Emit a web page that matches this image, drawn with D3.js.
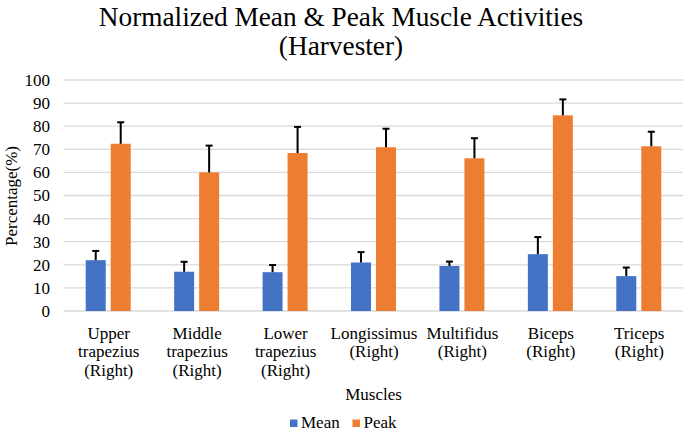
<!DOCTYPE html>
<html><head><meta charset="utf-8">
<script src="https://cdn.jsdelivr.net/npm/d3@7"></script>
<style>body{margin:0;background:#fff}svg{display:block}</style>
</head><body><svg id="c" width="685" height="431"></svg>
<script>
const categories = [["Upper","trapezius","(Right)"],["Middle","trapezius","(Right)"],["Lower","trapezius","(Right)"],["Longissimus","(Right)"],["Multifidus","(Right)"],["Biceps","(Right)"],["Triceps","(Right)"]];
const meanValues = [22, 17, 16.8, 21, 19.5, 24.6, 15.1];
const meanErrors = [4, 4.3, 3.1, 4.5, 1.9, 7.4, 3.7];
const peakValues = [72.4, 60, 68.4, 70.9, 66.1, 84.7, 71.3];
const peakErrors = [9.3, 11.6, 11.3, 8.0, 8.7, 6.9, 6.3];
const yTicks = [0,10,20,30,40,50,60,70,80,90,100];
const seriesNames = ["Mean","Peak"];
const colors = ["#4472C4","#ED7D31"];

const FONT = "'Liberation Serif', 'Times New Roman', serif";
const svg = d3.select("#c");
const m = {l:64, r:683, t:80, b:311};
const x = d3.scaleBand().domain(d3.range(categories.length)).range([m.l, m.r]);
const y = d3.scaleLinear().domain([0,100]).range([m.b, m.t]);
const barW = 20, gap = 5;

function txt(sel){ return sel.style("font-family", FONT).style("fill", "#000"); }

// gridlines
svg.append("g").selectAll("line").data(yTicks).join("line")
  .attr("x1", m.l).attr("x2", m.r)
  .attr("y1", d => y(d)).attr("y2", d => y(d))
  .attr("stroke", "#d9d9d9").attr("stroke-width", 1.3);

// y axis labels
const yAxis = d3.axisLeft(y).tickValues(yTicks).tickSize(0).tickPadding(14);
const ya = svg.append("g").attr("transform", `translate(${m.l},0)`).call(yAxis);
ya.select(".domain").remove();
txt(ya.selectAll("text")).style("font-size", "17px");

// bars
const series = [meanValues, peakValues];
const errs = [meanErrors, peakErrors];
series.forEach((vals, s) => {
  const off = s === 0 ? -(barW + gap/2) : gap/2;
  const g = svg.append("g");
  g.selectAll("rect").data(vals).join("rect")
    .attr("x", (d,i) => x(i) + x.bandwidth()/2 + off)
    .attr("width", barW)
    .attr("y", d => y(d))
    .attr("height", d => y(0) - y(d))
    .attr("fill", colors[s]);
  const eg = svg.append("g").attr("stroke", "#000").attr("stroke-width", 2);
  vals.forEach((v, i) => {
    const cx = x(i) + x.bandwidth()/2 + off + barW/2;
    eg.append("line").attr("x1", cx).attr("x2", cx).attr("y1", y(v)).attr("y2", y(v + errs[s][i]));
    eg.append("line").attr("x1", cx-3.5).attr("x2", cx+3.5).attr("y1", y(v + errs[s][i])).attr("y2", y(v + errs[s][i]));
  });
});

// category labels
const xl = svg.append("g");
categories.forEach((lines, i) => {
  const cx = x(i) + x.bandwidth()/2 + 0.5;
  const t = txt(xl.append("text")).attr("text-anchor", "middle").style("font-size", "17px").attr("x", cx);
  lines.forEach((ln, k) => t.append("tspan").attr("x", cx).attr("y", 339 + k*18.3).text(ln));
});

// axis titles
txt(svg.append("text")).attr("x", (m.l + m.r)/2).attr("y", 400).attr("text-anchor","middle").style("font-size","17px").text("Muscles");
txt(svg.append("text")).attr("transform","translate(17,196) rotate(-90)").attr("text-anchor","middle").style("font-size","17px").text("Percentage(%)");

// title
txt(svg.append("text")).attr("x", 341).attr("y", 26).attr("text-anchor","middle").style("font-size","27.3px").text("Normalized Mean & Peak Muscle Activities");
txt(svg.append("text")).attr("x", 341).attr("y", 55).attr("text-anchor","middle").style("font-size","27.3px").text("(Harvester)");

// legend
const lg = svg.append("g");
const lx = [290, 352.5];
seriesNames.forEach((n, s) => {
  lg.append("rect").attr("x", lx[s]).attr("y", 419.5).attr("width", 7.5).attr("height", 7.5).attr("fill", colors[s]);
  txt(lg.append("text")).attr("x", lx[s] + 11).attr("y", 428).style("font-size", "17px").text(n);
});
</script></body></html>
